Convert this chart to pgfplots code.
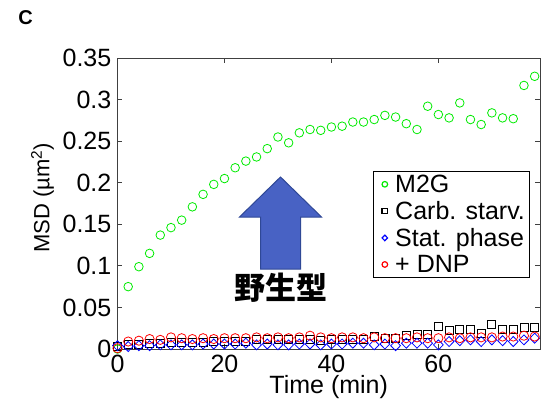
\documentclass[border=0pt]{standalone}
\usepackage{fontspec}
\setmainfont{Liberation Sans}
\newfontfamily\cjk{Noto Sans CJK JP}
\usepackage{pgfplots}
\pgfplotsset{compat=1.18}
\definecolor{arrowfill}{RGB}{72,98,196}
\definecolor{arrowdraw}{RGB}{47,72,150}
\definecolor{mgreen}{RGB}{0,235,0}
\definecolor{mblue}{RGB}{0,0,255}
\definecolor{mred}{RGB}{255,0,0}
\begin{document}
\begin{tikzpicture}[x=1bp,y=1bp]
\begin{axis}[
  at={(0,0)}, anchor=south west,
  scale only axis, width=422.5bp, height=291bp,
  xmin=0, xmax=79, ymin=0, ymax=0.35,
  xtick={0,20,40,60}, xticklabels={0,20,40,60},
  ytick={0,0.05,0.1,0.15,0.2,0.25,0.3,0.35},
  yticklabels={0,0.05,0.1,0.15,0.2,0.25,0.3,0.35},
  tick align=inside, major tick length=5bp,
  axis line style={black!75, line width=0.8bp},
  every tick/.style={black!75, line width=0.8bp},
  tick label style={font=\fontsize{25bp}{30bp}\selectfont},
  xticklabel style={anchor=base, yshift=-23bp, inner sep=0pt},
  yticklabel style={anchor=east, xshift=-6bp, inner sep=0pt},
  xlabel={Time (min)},
  ylabel={MSD (µm\textsuperscript{2})},
  xlabel style={at={(axis description cs:0.5,-0.1512)}, anchor=base, inner sep=0pt, font=\fontsize{25bp}{30bp}\selectfont},
  ylabel style={at={(axis description cs:-0.1775,0.52)}, anchor=center, inner sep=0pt, font=\fontsize{22bp}{26bp}\selectfont},
  legend style={at={(axis description cs:0.977,0.612)}, anchor=north east,
    draw=black, line width=0.8bp, fill=white,
    font=\fontsize{25bp}{27bp}\selectfont,
    inner xsep=3bp, inner ysep=1.5bp, row sep=3.4bp},
  legend cell align=left,
  legend image code/.code={\path (0bp,0bp) (16bp,0bp); \draw[#1, only marks, mark size=2.8bp, line width=1.2bp] plot coordinates {(8bp,0bp)};},
]
\addplot[only marks, mark=o, mgreen, mark size=4.3bp, line width=0.8bp] coordinates {
(0,0.000) (2,0.075) (4,0.099) (6,0.115) (8,0.137) (10,0.146) (12,0.155) (14,0.171) (16,0.186) (18,0.198)
(20,0.205) (22,0.218) (24,0.226) (26,0.231) (28,0.241) (30,0.255) (32,0.248) (34,0.260) (36,0.264) (38,0.263)
(40,0.267) (42,0.268) (44,0.273) (46,0.273) (48,0.276) (50,0.281) (52,0.279) (54,0.271) (56,0.264) (58,0.292)
(60,0.282) (62,0.278) (64,0.296) (66,0.276) (68,0.270) (70,0.284) (72,0.278) (74,0.277) (76,0.317) (78,0.328)
};
\addlegendentry{M2G}
\addplot[only marks, mark=square, black, mark size=4bp, line width=0.8bp] coordinates {
(0,0.003) (2,0.005) (4,0.006) (6,0.007) (8,0.007) (10,0.008) (12,0.008) (14,0.008) (16,0.008) (18,0.009)
(20,0.009) (22,0.009) (24,0.009) (26,0.011) (28,0.012) (30,0.011) (32,0.011) (34,0.011) (36,0.011) (38,0.010)
(40,0.011) (42,0.011) (44,0.012) (46,0.012) (48,0.015) (50,0.013) (52,0.013) (54,0.016) (56,0.018) (58,0.018)
(60,0.027) (62,0.022) (64,0.024) (66,0.024) (68,0.019) (70,0.029) (72,0.023) (74,0.024) (76,0.026) (78,0.026)
};
\addlegendentry{Carb. starv.}
\addplot[only marks, mark=diamond, mblue, mark size=5bp, line width=0.8bp, mark options={xscale=1.3}] coordinates {
(0,0.004) (2,0.003) (4,0.004) (6,0.004) (8,0.005) (10,0.005) (12,0.005) (14,0.005) (16,0.006) (18,0.006)
(20,0.006) (22,0.006) (24,0.007) (26,0.005) (28,0.006) (30,0.005) (32,0.005) (34,0.006) (36,0.006) (38,0.005)
(40,0.006) (42,0.006) (44,0.007) (46,0.007) (48,0.005) (50,0.006) (52,0.004) (54,0.007) (56,0.007) (58,0.007)
(60,0.005) (62,0.009) (64,0.010) (66,0.011) (68,0.009) (70,0.011) (72,0.010) (74,0.009) (76,0.011) (78,0.013)
};
\addlegendentry{Stat. phase}
\addplot[only marks, mark=o, mred, mark size=4.6bp, line width=0.8bp] coordinates {
(0,0.001) (2,0.009) (4,0.010) (6,0.012) (8,0.011) (10,0.014) (12,0.013) (14,0.012) (16,0.013) (18,0.012)
(20,0.013) (22,0.013) (24,0.013) (26,0.014) (28,0.013) (30,0.014) (32,0.013) (34,0.014) (36,0.016) (38,0.014)
(40,0.013) (42,0.014) (44,0.014) (46,0.013) (48,0.014) (50,0.013) (52,0.013) (54,0.013) (56,0.014) (58,0.013)
(60,0.013) (62,0.014) (64,0.013) (66,0.014) (68,0.014) (70,0.014) (72,0.015) (74,0.015) (76,0.016) (78,0.015)
};
\addlegendentry{+ DNP}
\end{axis}
\draw[fill=arrowfill, draw=arrowdraw, line width=1bp]
  (163,172) -- (204,132) -- (183,132) -- (183,80) -- (143,80) -- (143,132) -- (122,132) -- cycle;
\node[font=\cjk\bfseries\fontsize{31bp}{31bp}\selectfont] at (163,61) {野生型};
\node[font=\bfseries\fontsize{20bp}{20bp}\selectfont] at (-92,331) {C};
\pgfresetboundingbox
\path[use as bounding box] (-117.5,-49) rectangle (427.5,349);
\end{tikzpicture}
\end{document}
